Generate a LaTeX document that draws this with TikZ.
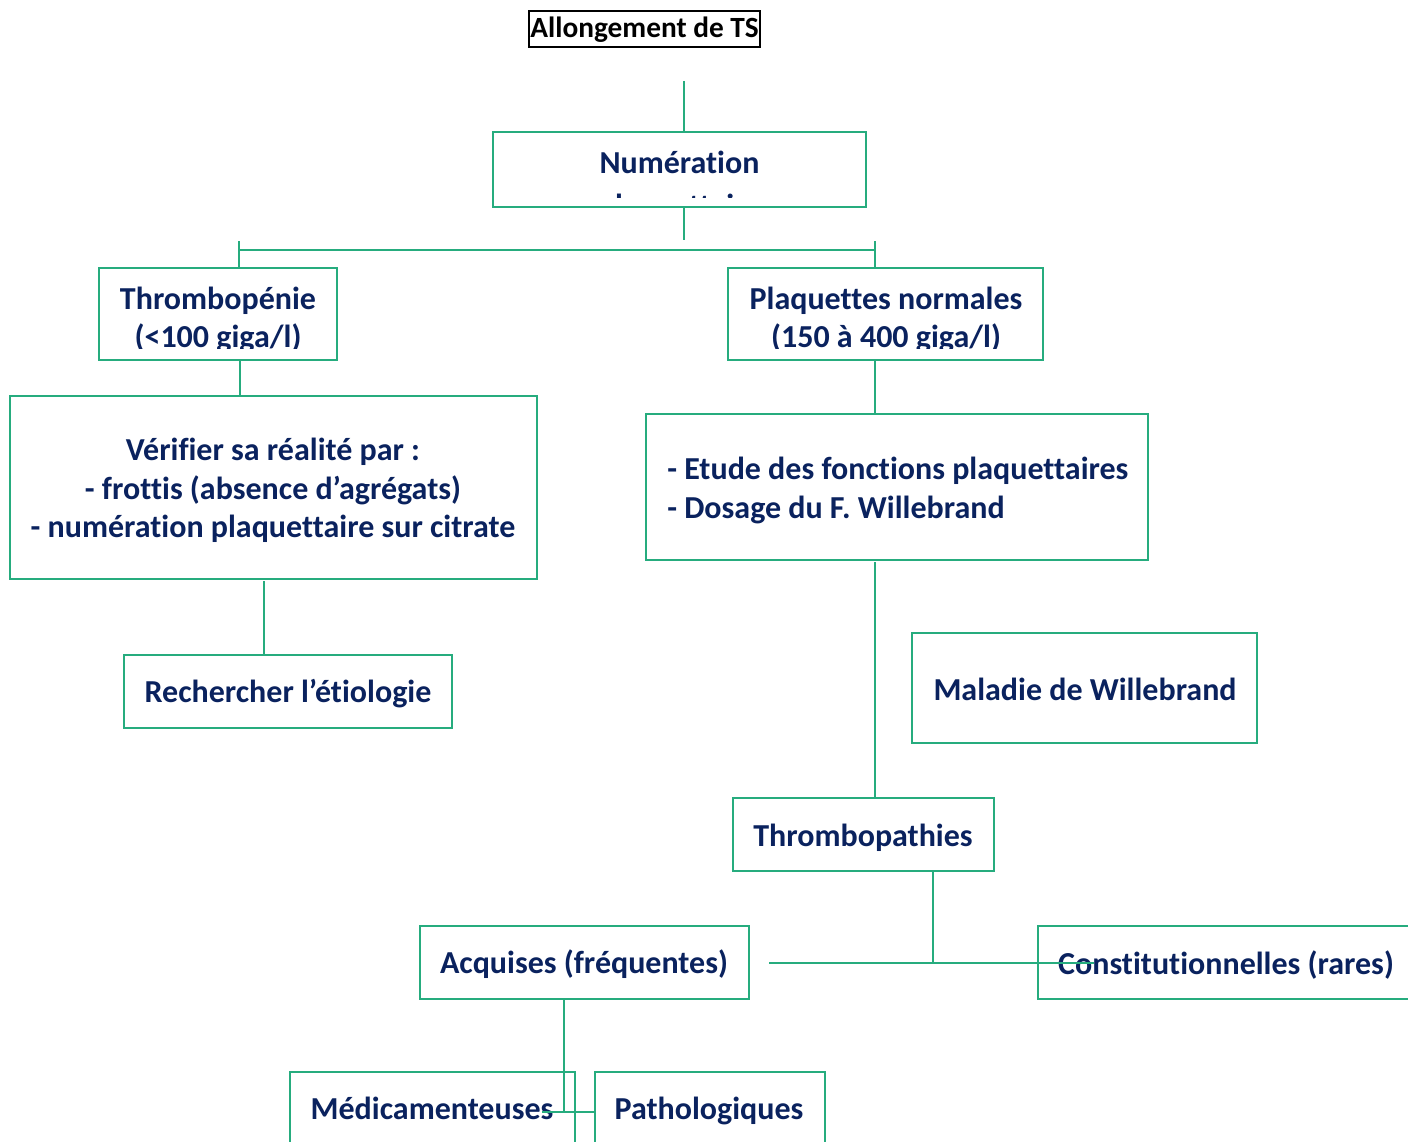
\documentclass[tikz,border=0pt]{standalone}
\usepackage{fontspec}
\setmainfont[Ligatures=NoCommon]{Carlito}
\usetikzlibrary{fit}
\definecolor{bgreen}{RGB}{38,172,126}
\definecolor{navy}{RGB}{10,34,94}
\tikzset{
  box/.style={draw=bgreen, line width=2.2pt, inner sep=0pt},
  tbox/.style={draw=black, line width=1.4pt, inner sep=0pt},
  txt/.style={text=navy, font=\bfseries\fontsize{24}{29}\selectfont, inner sep=0pt, anchor=base},
  ttxt/.style={text=black, font=\bfseries\fontsize{22}{26}\selectfont, inner sep=0pt, anchor=base},
  conn/.style={draw=bgreen, line width=1.4pt}
}
\begin{document}
\begin{tikzpicture}[x=0.75pt,y=-0.75pt]
\useasboundingbox (0,0) rectangle (1408,1141);
% title
\node[tbox, fit={(529,11) (760,47)}] (title) {};
\node[ttxt] (titletext) at (644.5,38) {Allongement de TS};
% boxes
\node[box, fit={(493,132) (866,207)}] (num) {};
\node[box, fit={(99,268) (337,360)}] (thr) {};
\node[box, fit={(728,268) (1043,360)}] (plq) {};
\node[box, fit={(10,396) (537,579)}] (ver) {};
\node[box, fit={(124,655) (452,728)}] (rech) {};
\node[box, fit={(646,414) (1148,560)}] (etu) {};
\node[box, fit={(912,633) (1257,743)}] (mal) {};
\node[box, fit={(733,798) (994,871)}] (thp) {};
\node[box, fit={(420,926) (749,999)}] (acq) {};
\node[box, fit={(1038,926) (1425,999)}] (con) {};
\node[box, fit={(290,1072) (575,1160)}] (med) {};
\node[box, fit={(595,1072) (825,1160)}] (pat) {};
% clipped texts
\begin{scope}
\clip (495,134) rectangle (864,198);
\node[txt] (numtexta) at (679.5,174) {Numération};
\node[txt] (numtextb) at (679.5,216.5) {plaquettaire};
\end{scope}
\begin{scope}
\clip (101,270) rectangle (335,348);
\node[txt] (thrtexta) at (218,309) {Thrombopénie};
\node[txt] (thrtextb) at (218,347.5) {(<100 giga/l)};
\end{scope}
\begin{scope}
\clip (730,270) rectangle (1041,348);
\node[txt] (plqtexta) at (886,309) {Plaquettes normales};
\node[txt] (plqtextb) at (886,347.5) {(150 à 400 giga/l)};
\end{scope}
% texts
\node[txt] (vertexta) at (273,460) {Vérifier sa réalité par :};
\node[txt] (vertextb) at (273,499) {- frottis (absence d’agrégats)};
\node[txt] (vertextc) at (273,537.5) {- numération plaquettaire sur citrate};
\node[txt] (rechtext) at (288,702) {Rechercher l’étiologie};
\node[txt, anchor=base west] (etutexta) at (667,479) {- Etude des fonctions plaquettaires};
\node[txt, anchor=base west] (etutextb) at (667,518) {- Dosage du F. Willebrand};
\node[txt] (maltext) at (1085,700) {Maladie de Willebrand};
\node[txt] (thptext) at (863,846) {Thrombopathies};
\node[txt] (acqtext) at (584,973) {Acquises (fréquentes)};
\node[txt] (context) at (1226,974) {Constitutionnelles (rares)};
\node[txt] (medtext) at (432,1119) {Médicamenteuses};
\node[txt] (pattext) at (709,1119) {Pathologiques};
% connectors
\coordinate (t1) at (684,81);
\draw[conn] (t1) -- (t1 |- num.north);
\coordinate (n1) at (684,207);
\coordinate (n2) at (684,240);
\draw[conn] (n1) -- (n2);
\coordinate (bl) at (239,250);
\coordinate (br) at (875,250);
\draw[conn] (bl) -- (br);
\coordinate (blt) at (239,241);
\coordinate (brt) at (875,241);
\draw[conn] (blt) -- (blt |- thr.north);
\draw[conn] (brt) -- (brt |- plq.north);
\coordinate (th1) at (240,360);
\draw[conn] (th1) -- (th1 |- ver.north);
\coordinate (v1) at (264,581);
\draw[conn] (v1) -- (v1 |- rech.north);
\coordinate (p1) at (875,360);
\draw[conn] (p1) -- (p1 |- etu.north);
\coordinate (e1) at (875,562);
\draw[conn] (e1) -- (e1 |- thp.north);
\coordinate (tp1) at (933,871);
\coordinate (tp2) at (933,963);
\draw[conn] (tp1) -- (tp2);
\coordinate (hl) at (769,963);
\coordinate (hr) at (1094,963);
\draw[conn] (hl) -- (hr);
\coordinate (a1) at (564,999);
\coordinate (a2) at (564,1112);
\draw[conn] (a1) -- (a2);
\coordinate (ml) at (542,1112);
\draw[conn] (ml) -- (ml -| pat.west);
\end{tikzpicture}
\end{document}
